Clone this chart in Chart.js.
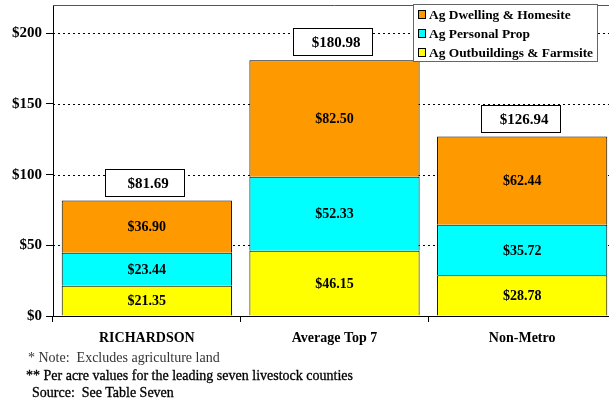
<!DOCTYPE html>
<html>
<head>
<meta charset="utf-8">
<script src="https://cdn.jsdelivr.net/npm/chart.js@4.4.0/dist/chart.umd.min.js"></script>
<style>
  html, body { margin: 0; padding: 0; background: #fff; }
  body { width: 609px; height: 404px; overflow: hidden; position: relative; }
  #wrap { position: absolute; left: 0; top: 0; width: 616px; height: 404px; }
  .note { position: absolute; font-family: "Liberation Serif", "Times New Roman", serif; font-size: 14px; line-height: 16px; white-space: nowrap; }
</style>
</head>
<body>
<div id="wrap"><canvas id="chart" width="616" height="404"></canvas></div>
<div class="note" style="left:28px; top:350px; color:#333;">* Note:&nbsp; Excludes agriculture land</div>
<div class="note" style="left:26px; top:368px; color:#000; -webkit-text-stroke:0.3px #000;">** Per acre values for the leading seven livestock counties</div>
<div class="note" style="left:32px; top:385px; color:#000; -webkit-text-stroke:0.3px #000;">Source:&nbsp; See Table Seven</div>
<script>
var categories = ["RICHARDSON", "Average Top 7", "Non-Metro"];
var outbuildings = [21.35, 46.15, 28.78];
var personalProp = [23.44, 52.33, 35.72];
var dwelling = [36.90, 82.50, 62.44];
var totals = [81.69, 180.98, 126.94];
var yTicks = [0, 50, 100, 150, 200];

var serif = '"Liberation Serif", "Times New Roman", serif';

// dotted gridlines behind the bars + frame
var gridPlugin = {
  id: "gridPlugin",
  beforeDatasetsDraw: function (chart) {
    var ctx = chart.ctx, a = chart.chartArea, y = chart.scales.y;
    ctx.save();
    ctx.strokeStyle = "#000";
    ctx.lineWidth = 1;
    ctx.setLineDash([2, 3]);
    yTicks.forEach(function (v) {
      if (v === 0) return;
      var py = Math.round(y.getPixelForValue(v)) + 0.5;
      ctx.beginPath();
      ctx.moveTo(a.left, py);
      ctx.lineTo(a.right, py);
      ctx.stroke();
    });
    ctx.setLineDash([]);
    ctx.strokeStyle = "#555";
    ctx.beginPath();
    ctx.moveTo(a.left, Math.round(a.top) + 0.5);
    ctx.lineTo(a.right, Math.round(a.top) + 0.5);
    ctx.stroke();
    ctx.restore();
  }
};

// value labels, total boxes and legend
var labelPlugin = {
  id: "labelPlugin",
  afterDatasetsDraw: function (chart) {
    var ctx = chart.ctx;
    ctx.save();
    ctx.fillStyle = "#000";
    ctx.textAlign = "center";
    ctx.textBaseline = "middle";
    ctx.font = "bold 14px " + serif;
    chart.data.datasets.forEach(function (ds, di) {
      chart.getDatasetMeta(di).data.forEach(function (bar, i) {
        var p = bar.getProps(["x", "y", "base"], true);
        ctx.fillText("$" + ds.data[i].toFixed(2), p.x, (p.y + p.base) / 2 + 1);
      });
    });

    // total boxes
    var meta = chart.getDatasetMeta(2);
    ctx.font = "bold 15px " + serif;
    totals.forEach(function (t, i) {
      var p = meta.data[i].getProps(["x", "y"], true);
      var w = 79, h = 27;
      var bx = Math.round(p.x - 2 - w / 2) + 0.5, by = Math.round(p.y - 5 - h) + 0.5;
      ctx.fillStyle = "#fff";
      ctx.fillRect(bx, by, w, h);
      ctx.strokeStyle = "#000";
      ctx.lineWidth = 1;
      ctx.strokeRect(bx, by, w, h);
      ctx.fillStyle = "#000";
      ctx.fillText("$" + t.toFixed(2), bx + w / 2 + 3, by + h / 2 + 1);
    });

    // legend
    var lx = 413.5, ly = 4.5, lw = 184, lh = 57;
    ctx.fillStyle = "#fff";
    ctx.fillRect(lx, ly, lw, lh);
    ctx.strokeStyle = "#666";
    ctx.strokeRect(lx, ly, lw, lh);
    ctx.textAlign = "left";
    ctx.font = "bold 13.4px " + serif;
    var items = [2, 1, 0];
    items.forEach(function (di, k) {
      var ds = chart.data.datasets[di];
      var cy = 15 + k * 19;
      ctx.fillStyle = ds.backgroundColor;
      ctx.fillRect(418.5, cy - 4.5, 7, 8);
      ctx.strokeStyle = "#000";
      ctx.strokeRect(418.5, cy - 4.5, 7, 8);
      ctx.fillStyle = "#000";
      ctx.fillText(ds.label, 429, cy + 1);
    });
    ctx.restore();
  }
};

var ctx = document.getElementById("chart").getContext("2d");
var myChart = new Chart(ctx, {
  type: "bar",
  data: {
    labels: categories,
    datasets: [
      {
        label: "Ag Outbuildings & Farmsite",
        data: outbuildings,
        backgroundColor: "#FFFF00",
        borderColor: "#000",
        borderWidth: 1
      },
      {
        label: "Ag Personal Prop",
        data: personalProp,
        backgroundColor: "#00FFFF",
        borderColor: "#000",
        borderWidth: 1
      },
      {
        label: "Ag Dwelling & Homesite",
        data: dwelling,
        backgroundColor: "#FF9900",
        borderColor: "#000",
        borderWidth: 1
      }
    ]
  },
  options: {
    responsive: false,
    animation: false,
    events: [],
    layout: { padding: { top: 5, right: 0, left: 0, bottom: 0 } },
    categoryPercentage: 0.907,
    barPercentage: 1,
    plugins: {
      legend: { display: false },
      tooltip: { enabled: false }
    },
    scales: {
      x: {
        stacked: true,
        offset: true,
        grid: { offset: true, drawOnChartArea: false, color: "#000", tickLength: 6 },
        border: { color: "#000", width: 1 },
        ticks: {
          color: "#000",
          padding: 8,
          font: { family: serif, size: 14, weight: "bold" }
        },
        afterFit: function (s) { s.height = 88; s.paddingLeft = 0; s.paddingRight = 0; }
      },
      y: {
        stacked: true,
        min: 0,
        max: 220,
        grid: { drawOnChartArea: false, color: "#000", tickLength: 7 },
        border: { color: "#000", width: 1 },
        ticks: {
          stepSize: 50,
          color: "#000",
          padding: 4,
          font: { family: serif, size: 15, weight: "bold" },
          callback: function (v) { return "$" + v; }
        },
        afterBuildTicks: function (s) {
          s.ticks = yTicks.map(function (v) { return { value: v }; });
        },
        afterFit: function (s) { s.width = 53; s.paddingTop = 0; s.paddingBottom = 0; }
      }
    }
  },
  plugins: [gridPlugin, labelPlugin]
});
</script>
</body>
</html>
